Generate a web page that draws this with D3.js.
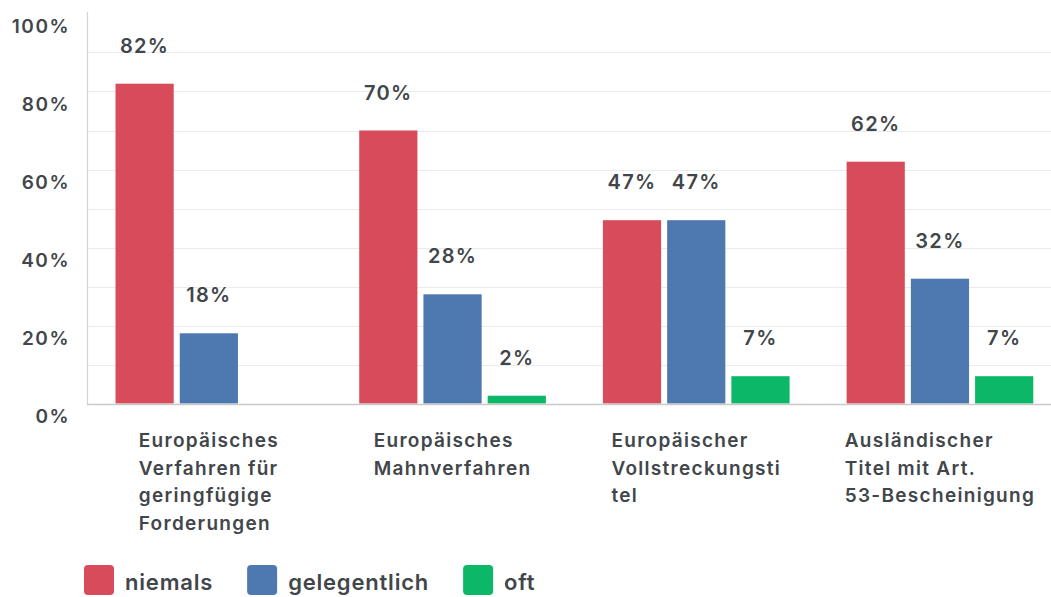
<!DOCTYPE html>
<html>
<head>
<meta charset="utf-8">
<script src="https://cdn.jsdelivr.net/npm/d3@7"></script>
<style>
  html, body { margin: 0; padding: 0; background: #fff; }
  svg { display: block; font-family: Inter, "Open Sans", sans-serif; }
</style>
</head>
<body>
<svg id="chart" width="1051" height="597"></svg>
<script>
// Category labels, one entry per wrapped line
const categoryLines = [
  ["Europäisches", "Verfahren für", "geringfügige", "Forderungen"],
  ["Europäisches", "Mahnverfahren"],
  ["Europäischer", "Vollstreckungsti", "tel"],
  ["Ausländischer", "Titel mit Art.", "53-Bescheinigung"]
];
const categories = categoryLines.map(l => l.join(" "));
const seriesNames = ["niemals", "gelegentlich", "oft"];
const niemals      = [82, 70, 47, 62];
const gelegentlich = [18, 28, 47, 32];
const oft          = [null, 2, 7, 7];
const yTickValues  = [0, 20, 40, 60, 80, 100];
const yTickLabels  = ["0%", "20%", "40%", "60%", "80%", "100%"];
const gridValues   = [10, 20, 30, 40, 50, 60, 70, 80, 90];
const seriesColors = ["#d84b5b", "#4d78b0", "#0cb868"];

const seriesValues = [niemals, gelegentlich, oft];
const rows = categories.map((c, i) => ({
  category: c,
  values: seriesNames.map((s, k) => ({ series: s, value: seriesValues[k][i] }))
}));

const svg = d3.select("#chart");
const W = 1051;
const axisX = 87;

const y = d3.scaleLinear().domain([0, 100]).range([403.5, 13.5]);
const x0 = d3.scaleBand().domain(categories).range([axisX, axisX + 974.8])
  .paddingInner(0.234).paddingOuter(0.117);
const x1 = d3.scaleBand().domain(seriesNames).range([0, x0.bandwidth()])
  .paddingInner(0.094).paddingOuter(0);
const color = d3.scaleOrdinal().domain(seriesNames).range(seriesColors);

const textColor = "#41464b";

// horizontal grid
svg.append("g").selectAll("line").data(gridValues).join("line")
  .attr("x1", axisX).attr("x2", W)
  .attr("y1", d => Math.round(y(d)) + 0.5).attr("y2", d => Math.round(y(d)) + 0.5)
  .attr("stroke", "#ebebeb").attr("stroke-width", 1);

// y axis labels (no tick marks, labels sit a little below their line)
const yAxis = d3.axisLeft(y).tickValues(yTickValues)
  .tickFormat((d, i) => yTickLabels[i]).tickSize(0).tickPadding(17);
const gy = svg.append("g").attr("transform", `translate(${axisX},0)`).call(yAxis);
gy.select(".domain").remove();
gy.selectAll("text")
  .attr("dy", "0.98em")
  .attr("fill", textColor)
  .style("font-size", "19px").style("font-weight", 600)
  .style("letter-spacing", "1.5px")
  .style("font-family", "Inter, sans-serif");

// vertical axis line
svg.append("line")
  .attr("x1", axisX + 0.5).attr("x2", axisX + 0.5)
  .attr("y1", 12).attr("y2", Math.round(y(0)) + 1)
  .attr("stroke", "#d2d2d2").attr("stroke-width", 1.2);

// bars
const groups = svg.append("g").selectAll("g").data(rows).join("g")
  .attr("transform", d => `translate(${x0(d.category)},0)`);

groups.selectAll("rect").data(d => d.values.filter(v => v.value != null)).join("rect")
  .attr("x", d => x1(d.series))
  .attr("width", x1.bandwidth())
  .attr("y", d => y(d.value))
  .attr("height", d => y(0) - y(d.value))
  .attr("fill", d => color(d.series));

// value labels
groups.selectAll("text.val").data(d => d.values.filter(v => v.value != null)).join("text")
  .attr("class", "val")
  .attr("x", d => x1(d.series) + x1.bandwidth() / 2)
  .attr("y", d => y(d.value) - 31)
  .attr("text-anchor", "middle")
  .attr("fill", textColor)
  .style("font-size", "20px").style("font-weight", 600)
  .style("letter-spacing", "1.3px")
  .text(d => d.value + "%");

// baseline
svg.append("line")
  .attr("x1", axisX).attr("x2", W)
  .attr("y1", Math.round(y(0)) + 0.5).attr("y2", Math.round(y(0)) + 0.5)
  .attr("stroke", "#c9c9c9").attr("stroke-width", 1.5);

// category labels: left-aligned block centred under each group
const catG = svg.append("g");
categoryLines.forEach((lines, i) => {
  const t = catG.append("text")
    .attr("fill", textColor)
    .style("font-size", "19px").style("font-weight", 600)
    .style("letter-spacing", "1.3px");
  lines.forEach((ln, j) => {
    t.append("tspan").attr("y", 447 + j * 27.5).text(ln);
  });
  let maxW = 0;
  t.selectAll("tspan").each(function () { maxW = Math.max(maxW, this.getComputedTextLength()); });
  const cx = x0(categories[i]) + x0.bandwidth() / 2;
  t.selectAll("tspan").attr("x", cx - maxW / 2);
});

// legend
const legend = svg.append("g");
let lx = 84;
seriesNames.forEach(s => {
  legend.append("rect")
    .attr("x", lx).attr("y", 565).attr("width", 30).attr("height", 30)
    .attr("rx", 4).attr("fill", color(s));
  const t = legend.append("text")
    .attr("x", lx + 41).attr("y", 590)
    .attr("fill", textColor)
    .style("font-size", "22px").style("font-weight", 600)
    .style("letter-spacing", "0.8px")
    .text(s);
  lx += 41 + t.node().getComputedTextLength() + 34;
});
</script>
</body>
</html>
